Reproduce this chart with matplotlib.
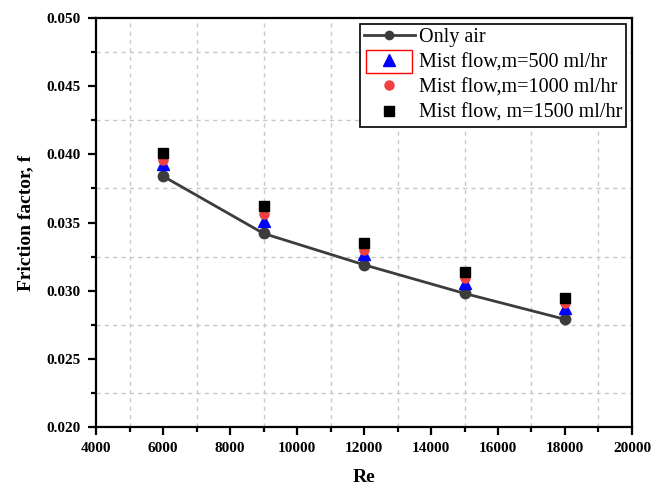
import numpy as np
import matplotlib
matplotlib.use('Agg')
import matplotlib.pyplot as plt
from matplotlib.ticker import MultipleLocator
from matplotlib.patches import Rectangle

re = [6000, 9000, 12000, 15000, 18000]
f_air = [0.0384, 0.0342, 0.0319, 0.0298, 0.0279]
f_500 = [0.0393, 0.0351, 0.0327, 0.0306, 0.0287]
f_1000 = [0.0396, 0.0356, 0.0330, 0.0309, 0.0291]
f_1500 = [0.0401, 0.0362, 0.0335, 0.0314, 0.0295]

labels = ['Only air', 'Mist flow,m=500 ml/hr', 'Mist flow,m=1000 ml/hr',
          'Mist flow, m=1500 ml/hr']

plt.rcParams['font.family'] = ['Liberation Serif', 'DejaVu Serif']

fig = plt.figure(figsize=(6.67, 4.88), dpi=100)
ax = fig.add_axes([0.144, 0.125, 0.9475 - 0.144, 0.963 - 0.125])

ax.plot(re, f_air, color='#3c3c3c', lw=2, marker='o', ms=7.5,
        label=labels[0], zorder=3)
ax.plot(re, f_500, ls='none', color='#0000ff', marker='^', ms=8,
        label=labels[1], zorder=4)
ax.plot(re, f_1000, ls='none', color='#f04040', marker='o', ms=6.5,
        label=labels[2], zorder=5)
ax.plot(re, f_1500, ls='none', color='black', marker='s', ms=6.5,
        label=labels[3], zorder=6)

ax.set_xlim(4000, 20000)
ax.set_ylim(0.020, 0.050)
ax.xaxis.set_major_locator(MultipleLocator(2000))
ax.xaxis.set_minor_locator(MultipleLocator(1000))
ax.yaxis.set_major_locator(MultipleLocator(0.005))
ax.yaxis.set_minor_locator(MultipleLocator(0.0025))
ax.yaxis.set_major_formatter(matplotlib.ticker.FormatStrFormatter('%.3f'))

# Gitter nur an den Zwischenpositionen
for x in np.arange(5000, 20000, 2000):
    ax.axvline(x, color='#c8c8c8', lw=1, ls=(0, (3, 3)), zorder=0)
for y in np.arange(0.0225, 0.050, 0.005):
    ax.axhline(y, color='#c8c8c8', lw=1, ls=(0, (3, 3)), zorder=0)

ax.tick_params(which='both', direction='out', width=1.6, top=False,
               right=False)
ax.tick_params(which='major', length=6, labelsize=11, pad=5)
ax.tick_params(which='minor', length=3.5)
for lab in ax.get_xticklabels() + ax.get_yticklabels():
    lab.set_fontweight('bold')
for s in ax.spines.values():
    s.set_linewidth(1.6)

ax.set_xlabel('Re', fontsize=14, fontweight='bold', labelpad=10)
ax.set_ylabel('Friction factor, f', fontsize=14, fontweight='bold',
              labelpad=9)

leg = ax.legend(loc='upper right', fontsize=14.5, frameon=True,
                fancybox=False, edgecolor='black', framealpha=1,
                borderaxespad=0.3, labelspacing=0.3, handlelength=2.5,
                handletextpad=0.2, borderpad=0.2)
leg.get_frame().set_linewidth(1.2)
leg.legend_handles[0].set_markersize(6)

# rote Markierung um das zweite Legendensymbol
ax.add_patch(Rectangle((0.504, 0.866), 0.086, 0.056, transform=ax.transAxes,
                       fill=False, edgecolor='red', lw=1, clip_on=False,
                       zorder=10))

fig.savefig('out.png', dpi=100)
